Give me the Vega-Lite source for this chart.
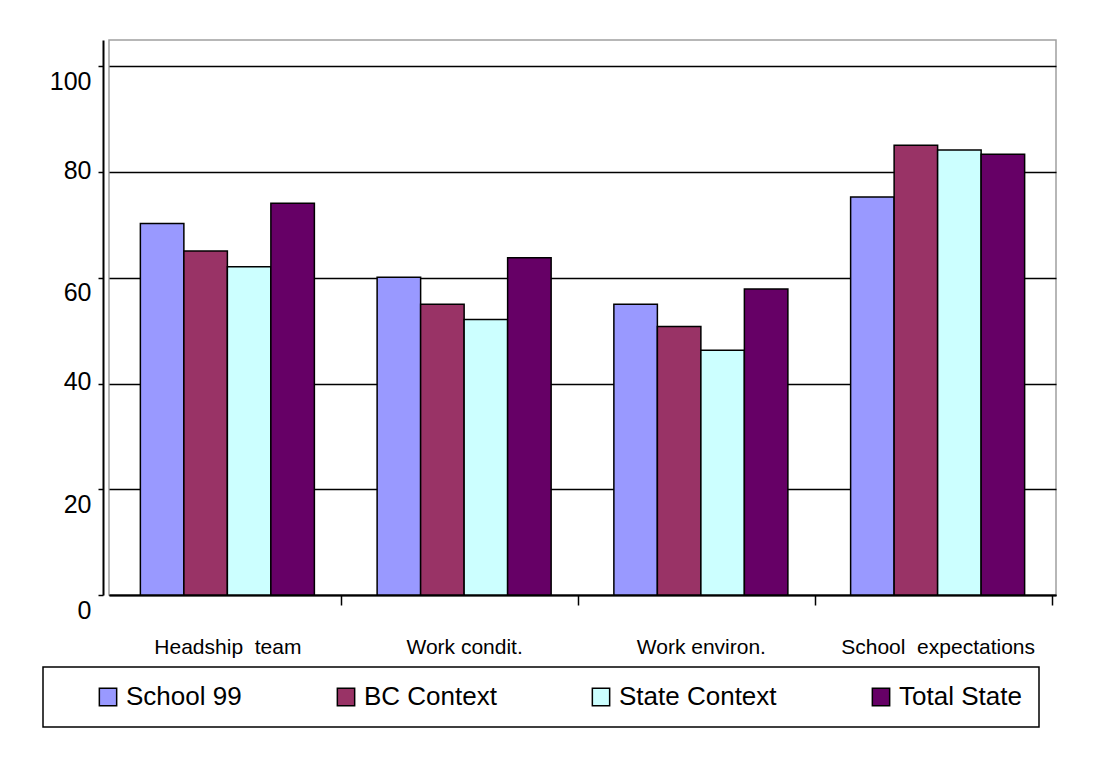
{
  "$schema": "https://vega.github.io/schema/vega-lite/v6.json",
  "width": 947,
  "height": 555,
  "autosize": {"type": "none"},
  "padding": {"left": 109, "top": 40, "right": 46, "bottom": 168},
  "background": "white",
  "data": {
    "values": [
      {"area": "Headship\u00a0 team", "group": "School 99", "score": 70.3},
      {"area": "Headship\u00a0 team", "group": "BC Context", "score": 65.1},
      {"area": "Headship\u00a0 team", "group": "State Context", "score": 62.1},
      {"area": "Headship\u00a0 team", "group": "Total State", "score": 74.1},
      {"area": "Work condit.", "group": "School 99", "score": 60.1},
      {"area": "Work condit.", "group": "BC Context", "score": 55.0},
      {"area": "Work condit.", "group": "State Context", "score": 52.1},
      {"area": "Work condit.", "group": "Total State", "score": 63.8},
      {"area": "Work environ.", "group": "School 99", "score": 55.0},
      {"area": "Work environ.", "group": "BC Context", "score": 50.8},
      {"area": "Work environ.", "group": "State Context", "score": 46.3},
      {"area": "Work environ.", "group": "Total State", "score": 57.9},
      {"area": "School\u00a0 expectations", "group": "School 99", "score": 75.3},
      {"area": "School\u00a0 expectations", "group": "BC Context", "score": 85.1},
      {"area": "School\u00a0 expectations", "group": "State Context", "score": 84.2},
      {"area": "School\u00a0 expectations", "group": "Total State", "score": 83.4}
    ]
  },
  "mark": {"type": "bar", "stroke": "black", "strokeWidth": 1.5},
  "encoding": {
    "x": {
      "field": "area",
      "type": "nominal",
      "sort": ["Headship\u00a0 team", "Work condit.", "Work environ.", "School\u00a0 expectations"],
      "scale": {"paddingInner": 0.265, "paddingOuter": 0.1325},
      "axis": {
        "title": null,
        "labelAngle": 0,
        "domainColor": "black",
        "domainWidth": 2,
        "tickColor": "black",
        "tickWidth": 1.5,
        "tickSize": 10,
        "tickOffset": 114,
        "labelOffset": -114,
        "labelFont": "Liberation Sans",
        "labelFontSize": 21,
        "labelColor": "black",
        "labelBaseline": "alphabetic",
        "labelPadding": 48,
        "labelLimit": 400
      }
    },
    "xOffset": {
      "field": "group",
      "type": "nominal",
      "sort": ["School 99", "BC Context", "State Context", "Total State"],
      "scale": {"paddingInner": 0, "paddingOuter": 0}
    },
    "y": {
      "field": "score",
      "type": "quantitative",
      "scale": {"domain": [0, 105], "nice": false},
      "axis": {
        "title": null,
        "values": [0, 20, 40, 60, 80, 100],
        "offset": 6,
        "grid": true,
        "gridColor": "black",
        "gridWidth": 1.5,
        "domainColor": "black",
        "domainWidth": 2,
        "tickColor": "black",
        "tickWidth": 1.5,
        "tickSize": 5,
        "labelFont": "Liberation Sans",
        "labelFontSize": 25,
        "labelColor": "black",
        "labelPadding": 7,
        "labelOffset": {"condition": {"test": "datum.value == 80 || datum.value == 40", "value": -2}, "value": 15}
      }
    },
    "color": {
      "field": "group",
      "type": "nominal",
      "scale": {
        "domain": ["School 99", "BC Context", "State Context", "Total State"],
        "range": ["#9999FF", "#993366", "#CCFFFF", "#660066"]
      },
      "legend": {
        "title": null,
        "orient": "none",
        "legendX": -66,
        "legendY": 627,
        "direction": "horizontal",
        "columns": 4,
        "gridAlign": "each",
        "columnPadding": 56,
        "padding": 17,
        "strokeColor": "black",
        "symbolType": "square",
        "symbolSize": 300,
        "symbolStrokeColor": "black",
        "symbolStrokeWidth": 1.5,
        "symbolOpacity": 1,
        "symbolOffset": 35,
        "labelOffset": 5,
        "labelFont": "Liberation Sans",
        "labelFontSize": 26,
        "labelColor": "black",
        "labelLimit": 400
      }
    }
  },
  "config": {
    "view": {"stroke": "#a0a0a0", "strokeWidth": 1.5},
    "font": "Liberation Sans",
    "legend": {"strokeWidth": 1.5}
  }
}
